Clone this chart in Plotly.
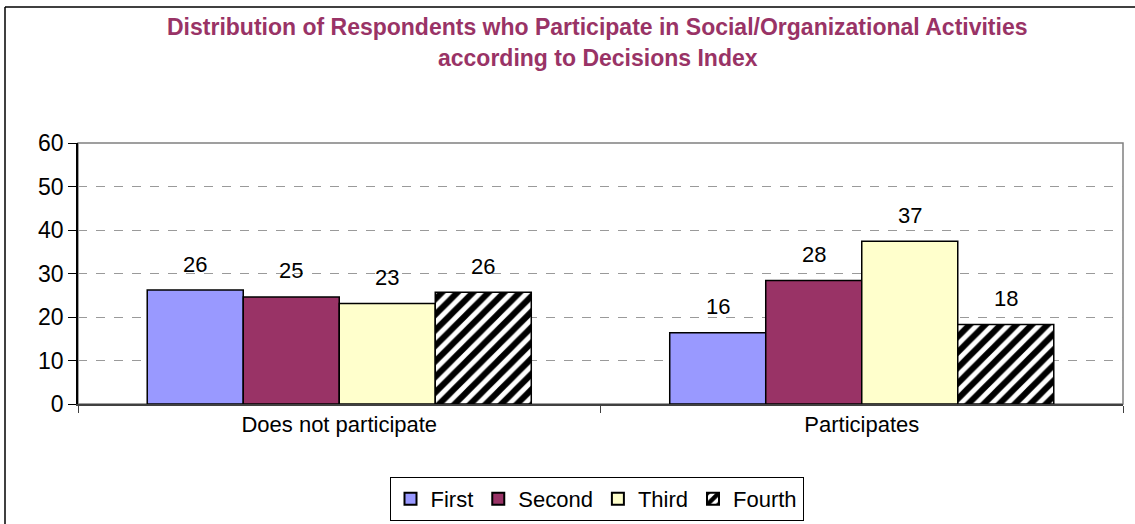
import plotly.graph_objects as go

categories = ["Does not participate", "Participates"]
series_names = ["First", "Second", "Third", "Fourth"]
first = [26.2, 16.4]
second = [24.6, 28.4]
third = [23.1, 37.4]
fourth = [25.7, 18.3]
series_values = [first, second, third, fourth]
y_ticks = [0, 10, 20, 30, 40, 50, 60]
title_lines = ["Distribution of Respondents who Participate in Social/Organizational Activities",
               "according to Decisions Index"]

colors = ["#9999FF", "#993366", "#FFFFCC", "#FFFFFF"]
FONT = "Liberation Sans, Arial"

W, H = 1135, 524
ML, MR, MT, MB = 78, 12, 143, 120
BARGAP = 0.265
plot_w = W - ML - MR
plot_h = H - MT - MB
cat_w = plot_w / len(categories)
bar_w = cat_w * (1 - BARGAP) / len(series_names)

fig = go.Figure()
for i, (name, vals) in enumerate(zip(series_names, series_values)):
    marker = dict(color=colors[i], line=dict(color="black", width=1.5))
    if name == "Fourth":
        marker["pattern"] = dict(shape="/", fgcolor="black", bgcolor="white", size=11,
                                 solidity=0.55, fgopacity=1)
    fig.add_trace(go.Bar(name=name, x=categories, y=vals, marker=marker, hoverinfo="skip"))
    for c, v in zip(categories, vals):
        fig.add_annotation(x=c, y=v, xref="x", yref="y", text=f"{v:.0f}", showarrow=False,
                           xshift=(i - (len(series_names) - 1) / 2) * bar_w, yshift=26,
                           yanchor="middle", font=dict(family=FONT, size=22, color="black"))

# title lines
for k, line in enumerate(title_lines):
    fig.add_annotation(x=(597.5 - ML) / plot_w, y=(H - MB - (27 + 31 * k)) / plot_h,
                       xref="paper", yref="paper", text=f"<b>{line}</b>", showarrow=False,
                       xanchor="center", yanchor="middle",
                       font=dict(family=FONT, size=23, color="#993366"))

# plot-area border (gray)
fig.add_shape(type="rect", xref="paper", yref="paper", x0=0, x1=1, y0=0, y1=1,
              line=dict(color="#808080", width=1.5), layer="below")
# outer chart frame (left and top edges only visible)
fig.add_shape(type="line", xref="paper", yref="paper",
              x0=(5 - ML) / plot_w, x1=(5 - ML) / plot_w,
              y0=(H - MB - (H + 40)) / plot_h, y1=(H - MB - 7) / plot_h,
              line=dict(color="black", width=1.5), layer="below")
fig.add_shape(type="line", xref="paper", yref="paper",
              x0=(5 - ML) / plot_w, x1=(W + 40 - ML) / plot_w,
              y0=(H - MB - 7) / plot_h, y1=(H - MB - 7) / plot_h,
              line=dict(color="black", width=1.5), layer="below")

fig.update_layout(
    width=W, height=H,
    margin=dict(l=ML, r=MR, t=MT, b=MB, pad=0, autoexpand=False),
    paper_bgcolor="white", plot_bgcolor="white",
    barmode="group", bargap=BARGAP, bargroupgap=0,
    font=dict(family=FONT, color="black"),
    showlegend=True,
    legend=dict(orientation="h", xref="container", yref="container",
                x=596.5 / W, xanchor="center",
                y=1 - 477 / H, yanchor="top",
                bordercolor="black", borderwidth=1, bgcolor="white",
                font=dict(size=22, family=FONT),
                itemsizing="constant", traceorder="normal", itemwidth=30),
)
fig.update_xaxes(type="category", showline=True, linecolor="#404040", linewidth=1.5,
                 tickson="boundaries", ticks="outside", ticklen=7, tickcolor="#404040",
                 showgrid=False, tickfont=dict(size=22), fixedrange=True, automargin=False)
fig.update_yaxes(range=[0, 60], tickvals=y_ticks, showline=True, linecolor="black", linewidth=1.5,
                 ticks="outside", ticklen=8, tickcolor="black", tickfont=dict(size=23),
                 showgrid=True, gridcolor="#9a9a9a", griddash="dash", gridwidth=1,
                 zeroline=False, fixedrange=True, automargin=False)

fig.write_html("out.html")
